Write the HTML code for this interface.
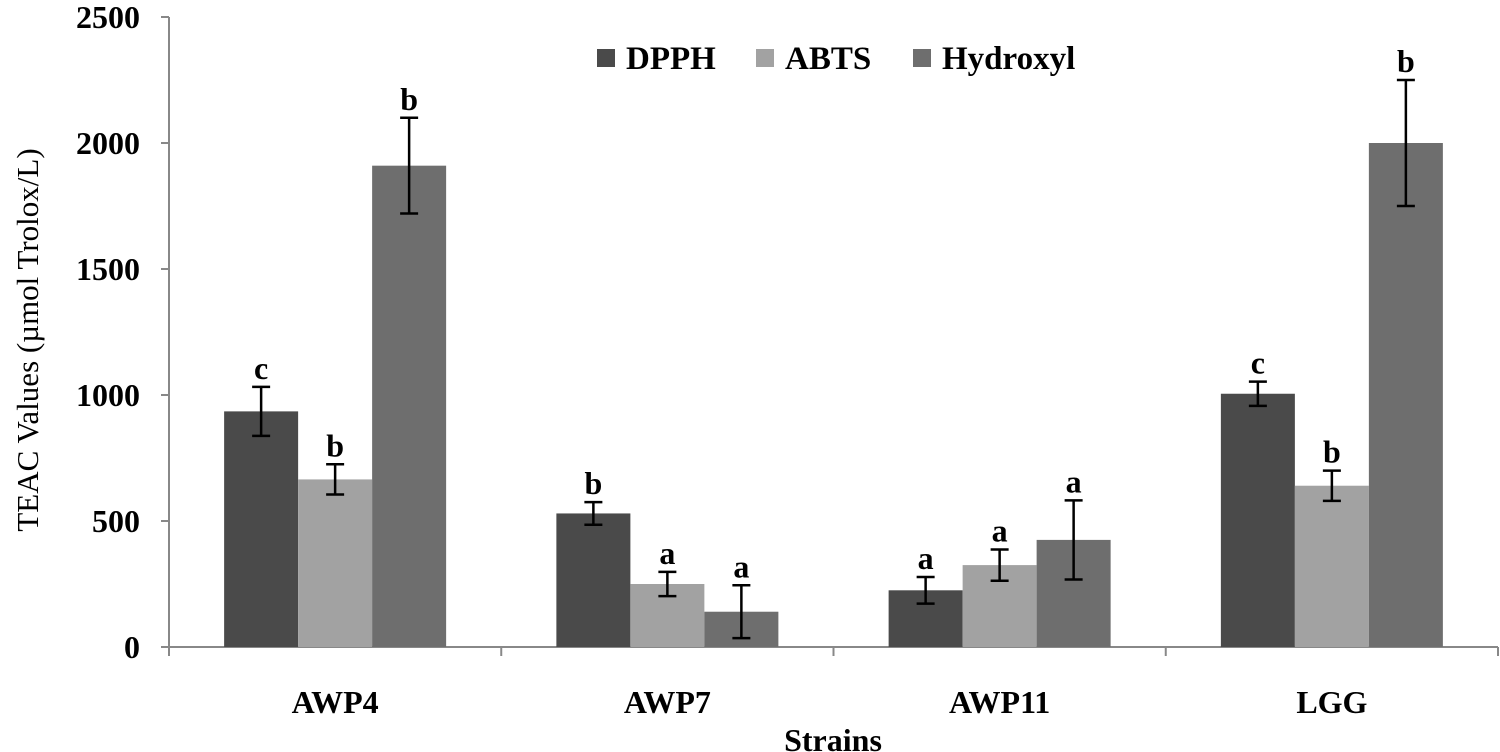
<!DOCTYPE html>
<html><head><meta charset="utf-8"><style>
body{margin:0;background:#fff;}
svg{display:block;font-family:"Liberation Serif",serif;}
</style></head><body>
<svg width="1500" height="752" viewBox="0 0 1500 752">
<g id="chart"></g>
</svg>
<script>
const categories=["AWP4","AWP7","AWP11","LGG"];
const seriesNames=["DPPH","ABTS","Hydroxyl"];
const dpph=[935,530,225,1005];
const abts=[665,250,325,640];
const hydroxyl=[1910,140,425,2000];
const dpphErr=[97,45,53,48];
const abtsErr=[60,48,62,60];
const hydroxylErr=[190,105,157,250];
const letters=[["c","b","b"],["b","a","a"],["a","a","a"],["c","b","b"]];
const yTicks=[0,500,1000,1500,2000,2500];
const colors=["#4a4a4a","#a2a2a2","#6e6e6e"];
const NS="http://www.w3.org/2000/svg";
const g=document.getElementById("chart");
const x0=169,x1=1498,y0=647,yTop=17,yMax=2500;
const y=v=>y0-(v/yMax)*(y0-yTop);
const gw=(x1-x0)/categories.length;
const bw=74;
const xc=i=>x0+gw*(i+0.5);
function mk(t,a,txt){const e=document.createElementNS(NS,t);for(const k in a)e.setAttribute(k,a[k]);if(txt!==undefined)e.textContent=txt;g.appendChild(e);return e;}
// axes
let e=mk("line",{x1:x0,y1:yTop,x2:x0,y2:y0,stroke:"#888","stroke-width":2});


e=mk("line",{x1:x0-8,y1:y0,x2:x1,y2:y0,stroke:"#888","stroke-width":2});


yTicks.forEach(t=>{
 e=mk("line",{x1:x0-8,y1:y(t),x2:x0,y2:y(t),stroke:"#888","stroke-width":2});
 
 
 e=mk("text",{x:140,y:y(t)+11,"text-anchor":"end","font-size":"32","font-weight":"bold"},t);
 
 
});
for(let i=0;i<=categories.length;i++){
 e=mk("line",{x1:x0+gw*i,y1:y0,x2:x0+gw*i,y2:y0+9,stroke:"#888","stroke-width":2});
 
 
}
const vals=[dpph,abts,hydroxyl],errs=[dpphErr,abtsErr,hydroxylErr];
categories.forEach((c,i)=>{
 e=mk("text",{x:xc(i),y:713,"text-anchor":"middle","font-size":"32","font-weight":"bold"},c);
 
 
 for(let s=0;s<3;s++){
  const bx=xc(i)+(s-1.5)*bw, v=vals[s][i], er=errs[s][i];
  e=mk("rect",{x:bx,y:y(v),width:bw,height:y0-y(v),fill:colors[s]});
  
  
  const cx=bx+bw/2;
  e=mk("path",{d:`M${cx-9},${y(v+er)}H${cx+9}M${cx},${y(v+er)}V${y(v-er)}M${cx-9},${y(v-er)}H${cx+9}`,stroke:"#000","stroke-width":2.5,fill:"none"});
  
  
  e=mk("text",{x:cx,y:y(v+er)-8,"text-anchor":"middle","font-size":"32","font-weight":"bold"},letters[i][s]);
  
  
 }
});
e=mk("text",{x:0,y:0,transform:"translate(38,340) rotate(-90)","text-anchor":"middle","font-size":"31"},"TEAC Values (µmol Trolox/L)");


e=mk("text",{x:833,y:751,"text-anchor":"middle","font-size":"32","font-weight":"bold"},"Strains");


const legX=[597,756,913];
seriesNames.forEach((n,s)=>{
 e=mk("rect",{x:legX[s],y:49,width:18,height:18,fill:colors[s]});
 
 
 e=mk("text",{x:legX[s]+29,y:69,"font-size":"33","font-weight":"bold"},n);
 
 
});
</script>
</body></html>
